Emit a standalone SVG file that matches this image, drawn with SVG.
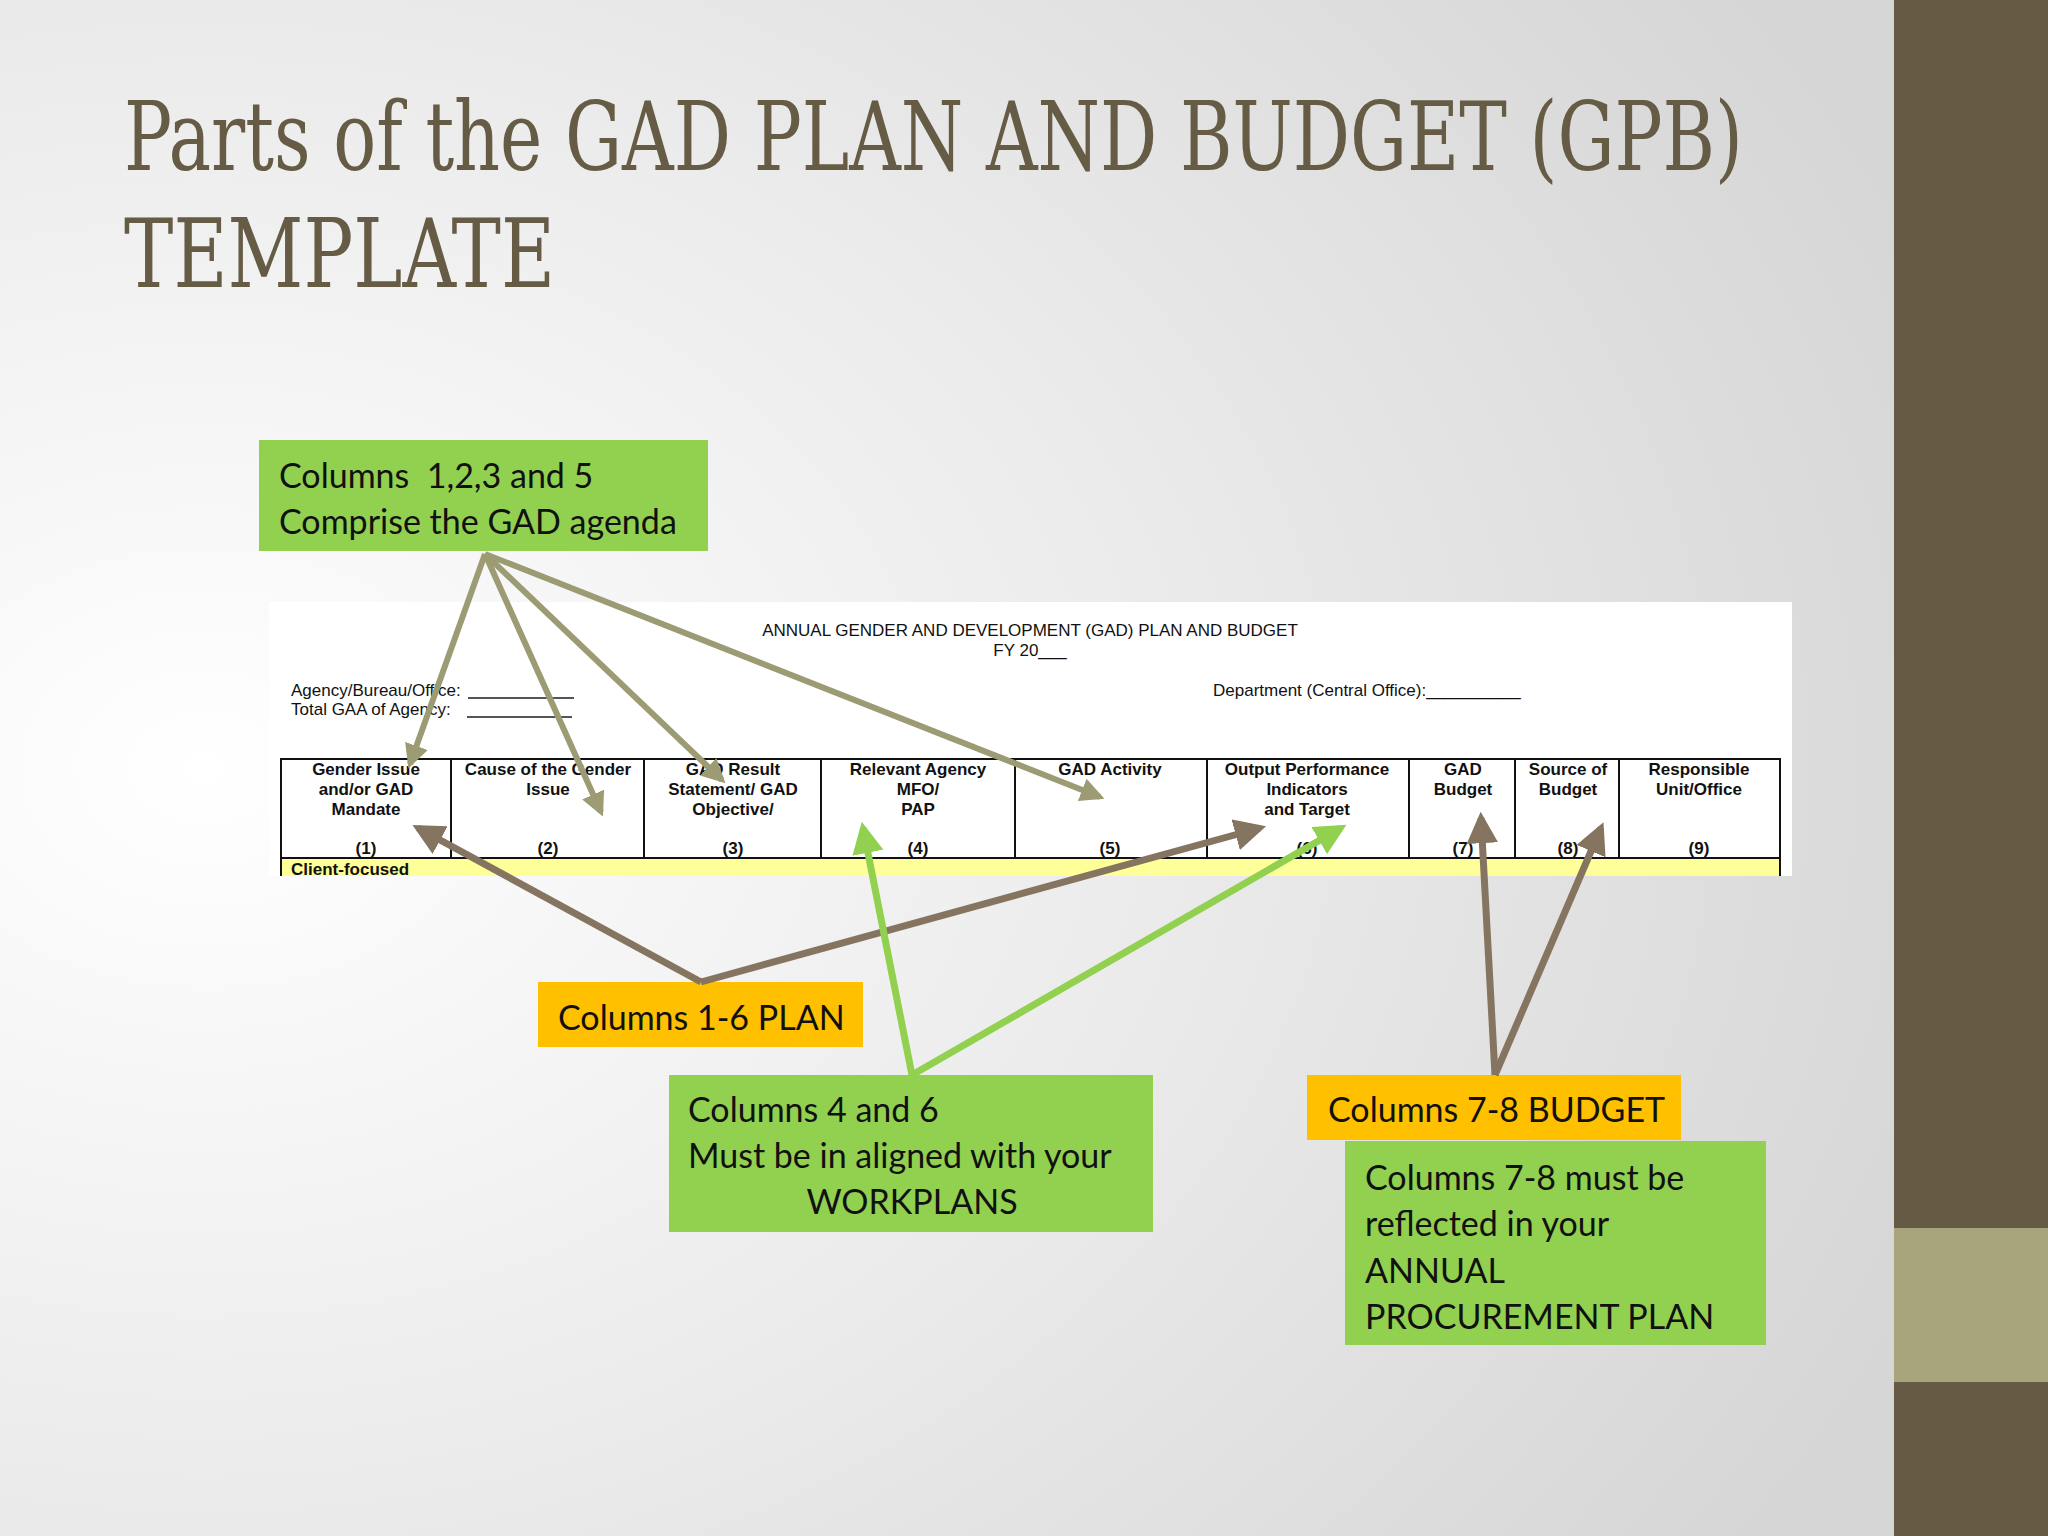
<svg xmlns="http://www.w3.org/2000/svg" width="2048" height="1536" viewBox="0 0 2048 1536">
<defs>
<radialGradient id="bg" cx="0.1" cy="0.5" r="0.9">
<stop offset="0" stop-color="#ffffff"/><stop offset="0.5" stop-color="#ececec"/><stop offset="1" stop-color="#d6d6d6"/>
</radialGradient>
<marker id="mo" viewBox="0 0 10 10" refX="8" refY="5" markerWidth="4" markerHeight="4" orient="auto" markerUnits="strokeWidth"><path d="M0,0L10,5L0,10z" fill="#9c9b73"/></marker>
<marker id="mb" viewBox="0 0 10 10" refX="8" refY="5" markerWidth="4.5" markerHeight="4.5" orient="auto" markerUnits="strokeWidth"><path d="M0,0L10,5L0,10z" fill="#857560"/></marker>
<marker id="mg" viewBox="0 0 10 10" refX="8" refY="5" markerWidth="4.5" markerHeight="4.5" orient="auto" markerUnits="strokeWidth"><path d="M0,0L10,5L0,10z" fill="#92d050"/></marker>
</defs>
<style>
.t{font-family:"Liberation Sans Narrow","Liberation Sans",Arial,sans-serif;fill:#111}
.h{font-size:17px;font-weight:bold;text-anchor:middle}
.s{font-size:17px}
.b{font-family:Lato,"Open Sans",sans-serif;font-size:34px;fill:#111}
.o{stroke:#9c9b73;stroke-width:6;fill:none;marker-end:url(#mo)}
.br{stroke:#857560;stroke-width:7;fill:none;marker-end:url(#mb)}
.g{stroke:#92d050;stroke-width:7;fill:none;marker-end:url(#mg)}
</style>
<rect width="2048" height="1536" fill="url(#bg)"/>
<rect x="1894" y="0" width="154" height="1536" fill="#665a45"/>
<rect x="1894" y="1228" width="154" height="154" fill="#a8a47c"/>
<g id="title" font-family="'DejaVu Serif Condensed','Liberation Serif',serif" fill="#665c45" font-size="96">
<text x="124" y="170" textLength="1619" lengthAdjust="spacingAndGlyphs">Parts of the GAD PLAN AND BUDGET (GPB)</text>
<text x="124" y="287" textLength="431" lengthAdjust="spacingAndGlyphs">TEMPLATE</text>
</g>
<g id="table">
<rect x="269" y="602" width="1523" height="274" fill="#fff"/>
<text class="t s" x="1030" y="636" text-anchor="middle">ANNUAL GENDER AND DEVELOPMENT (GAD) PLAN AND BUDGET</text>
<text class="t s" x="1030" y="656" text-anchor="middle">FY 20___</text>
<text class="t s" x="291" y="696">Agency/Bureau/Office:</text>
<text class="t s" x="291" y="715">Total GAA of Agency:</text>
<path d="M468,698H574M467,717H572" stroke="#555" stroke-width="2"/>
<text class="t s" x="1213" y="696">Department (Central Office):__________</text>
<rect x="281" y="858" width="1499" height="18" fill="#ffff99"/>
<rect x="281" y="759" width="1499" height="99" fill="none" stroke="#111" stroke-width="2"/>
<path d="M451,759V858M644,759V858M821,759V858M1015,759V858M1207,759V858M1409,759V858M1515,759V858M1619,759V858M281,876V858M1780,858V876" stroke="#111" stroke-width="2"/>
<text class="t s" x="291" y="875" font-weight="bold">Client-focused</text>
<g class="t h">
<text x="366" y="775">Gender Issue</text><text x="366" y="795">and/or GAD</text><text x="366" y="815">Mandate</text>
<text x="548" y="775">Cause of the Gender</text><text x="548" y="795">Issue</text>
<text x="733" y="775">GAD Result</text><text x="733" y="795">Statement/ GAD</text><text x="733" y="815">Objective/</text>
<text x="918" y="775">Relevant Agency</text><text x="918" y="795">MFO/</text><text x="918" y="815">PAP</text>
<text x="1110" y="775">GAD Activity</text>
<text x="1307" y="775">Output Performance</text><text x="1307" y="795">Indicators</text><text x="1307" y="815">and Target</text>
<text x="1463" y="775">GAD</text><text x="1463" y="795">Budget</text>
<text x="1568" y="775">Source of</text><text x="1568" y="795">Budget</text>
<text x="1699" y="775">Responsible</text><text x="1699" y="795">Unit/Office</text>
<text x="366" y="854">(1)</text><text x="548" y="854">(2)</text><text x="733" y="854">(3)</text><text x="918" y="854">(4)</text><text x="1110" y="854">(5)</text><text x="1307" y="854">(6)</text><text x="1463" y="854">(7)</text><text x="1568" y="854">(8)</text><text x="1699" y="854">(9)</text>
</g>
</g>
<g id="box1"><rect x="259" y="440" width="449" height="111" fill="#92d050"/>
<text class="b" x="279" y="488" xml:space="preserve">Columns  1,2,3 and 5</text><text class="b" x="279" y="534">Comprise the GAD agenda</text></g>
<g id="box2"><rect x="538" y="982" width="325" height="65" fill="#ffc000"/>
<text class="b" x="558" y="1030">Columns 1-6 PLAN</text></g>
<g id="box3"><rect x="669" y="1075" width="484" height="157" fill="#92d050"/>
<text class="b" x="688" y="1122">Columns 4 and 6</text><text class="b" x="688" y="1168">Must be in aligned with your</text><text class="b" x="912" y="1214" text-anchor="middle">WORKPLANS</text></g>
<g id="box4"><rect x="1307" y="1075" width="374" height="65" fill="#ffc000"/>
<text class="b" x="1328" y="1122">Columns 7-8 BUDGET</text></g>
<g id="box5"><rect x="1345" y="1141" width="421" height="204" fill="#92d050"/>
<text class="b" x="1365" y="1190">Columns 7-8 must be</text><text class="b" x="1365" y="1236">reflected in your</text><text class="b" x="1365" y="1283">ANNUAL</text><text class="b" x="1365" y="1329">PROCUREMENT PLAN</text></g>
<g id="connectors">
<path class="o" d="M485,554L410,764"/>
<path class="o" d="M485,554L601,812"/>
<path class="o" d="M485,554L722,780"/>
<path class="o" d="M485,554L1100,797"/>
<path class="br" d="M701,982L418,828"/>
<path class="br" d="M701,982L1260,828"/>
<path class="g" d="M912,1075L863,828"/>
<path class="g" d="M912,1075L1341,828"/>
<path class="br" d="M1495,1075L1481,818"/>
<path class="br" d="M1495,1075L1601,828"/>
</g>
</svg>
